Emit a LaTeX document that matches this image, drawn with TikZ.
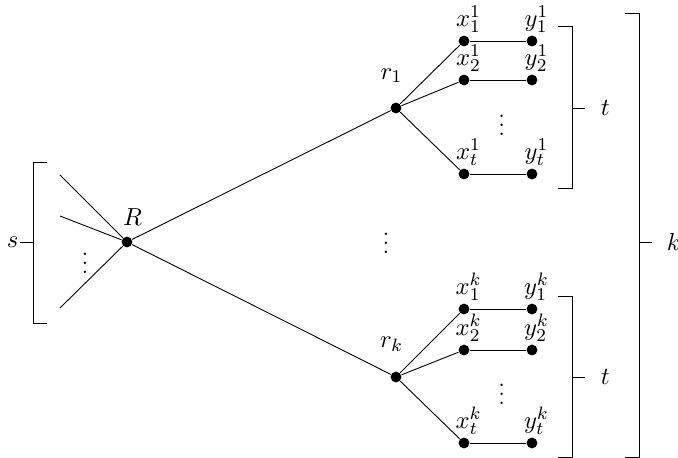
\documentclass[tikz,border=0pt]{standalone}
\begin{document}
\begin{tikzpicture}[node distance=1.0625cm,font=\fontsize{11}{13}\selectfont,
    dot/.style={circle,fill,inner sep=0pt,minimum size=4.8pt},
    lab/.style={label={[xshift=2pt,inner sep=1pt]above:#1}}]
    \useasboundingbox (0,0) rectangle (10.594,-7.156);

    \node[dot,label={[xshift=2.5pt,yshift=1pt]above:$R$}] (R) at (1.984,-3.781) {};
    \coordinate (s1) at (0.9375,-2.734);
    \coordinate (s2) at (0.9375,-3.375);
    \coordinate (s3) at (0.9375,-4.8125);
    \node (sd) at (1.328,-4.016) {$\vdots$};

    \node[dot,label={[yshift=5pt,xshift=-2pt]above:$r_1$}] (r1) at (6.1875,-1.6875) {};
    \node[dot,label={[yshift=5pt,xshift=-2pt]above:$r_k$}] (rk) at (6.1875,-5.891) {};
    \node (md) at (6.03,-3.70) {$\vdots$};

    \node[dot,lab=$x_1^1$] (x11) at ([shift={(1.0625,1.047)}] r1) {};
    \node[dot,lab=$x_2^1$] (x21) at ([shift={(1.0625,0.438)}] r1) {};
    \node[dot,lab=$x_t^1$] (xt1) at ([shift={(1.0625,-1.031)}] r1) {};
    \node[dot,lab=$y_1^1$] (y11) [right of=x11] {};
    \node[dot,lab=$y_2^1$] (y21) [right of=x21] {};
    \node[dot,lab=$y_t^1$] (yt1) [right of=xt1] {};
    \node (d1) at (7.84,-1.85) {$\vdots$};

    \node[dot,lab=$x_1^k$] (x1k) at ([shift={(1.0625,1.063)}] rk) {};
    \node[dot,lab=$x_2^k$] (x2k) at ([shift={(1.0625,0.422)}] rk) {};
    \node[dot,lab=$x_t^k$] (xtk) at ([shift={(1.0625,-1.031)}] rk) {};
    \node[dot,lab=$y_1^k$] (y1k) [right of=x1k] {};
    \node[dot,lab=$y_2^k$] (y2k) [right of=x2k] {};
    \node[dot,lab=$y_t^k$] (ytk) [right of=xtk] {};
    \node (dk) at (7.84,-6.06) {$\vdots$};

    \draw (R) -- (s1);
    \draw (R) -- (s2);
    \draw (R) -- (s3);
    \draw (R) -- (r1);
    \draw (R) -- (rk);
    \draw (r1) -- (x11);
    \draw (r1) -- (x21);
    \draw (r1) -- (xt1);
    \draw (rk) -- (x1k);
    \draw (rk) -- (x2k);
    \draw (rk) -- (xtk);
    \draw (x11) -- (y11);
    \draw (x21) -- (y21);
    \draw (xt1) -- (yt1);
    \draw (x1k) -- (y1k);
    \draw (x2k) -- (y2k);
    \draw (xtk) -- (ytk);

    % brackets
    \draw (0.734,-2.531) -- (0.516,-2.531) -- (0.516,-5.047) -- (0.734,-5.047);
    \draw (0.516,-3.781) -- (0.3125,-3.781) node[left,inner sep=0.5pt] (s) {$s$};
    \draw (8.72,-0.42) -- (8.9375,-0.42) -- (8.9375,-2.94) -- (8.72,-2.94);
    \draw (8.9375,-1.6875) -- (9.14,-1.6875) node[right=3.5pt] (t1) {$t$};
    \draw (8.72,-4.625) -- (8.9375,-4.625) -- (8.9375,-7.14) -- (8.72,-7.14);
    \draw (8.9375,-5.891) -- (9.14,-5.891) node[right=3.5pt] (tk) {$t$};
    \draw (9.766,-0.203) -- (9.984,-0.203) -- (9.984,-7.14) -- (9.766,-7.14);
    \draw (9.984,-3.781) -- (10.19,-3.781) node[right=3pt] (k) {$k$};
\end{tikzpicture}
\end{document}
